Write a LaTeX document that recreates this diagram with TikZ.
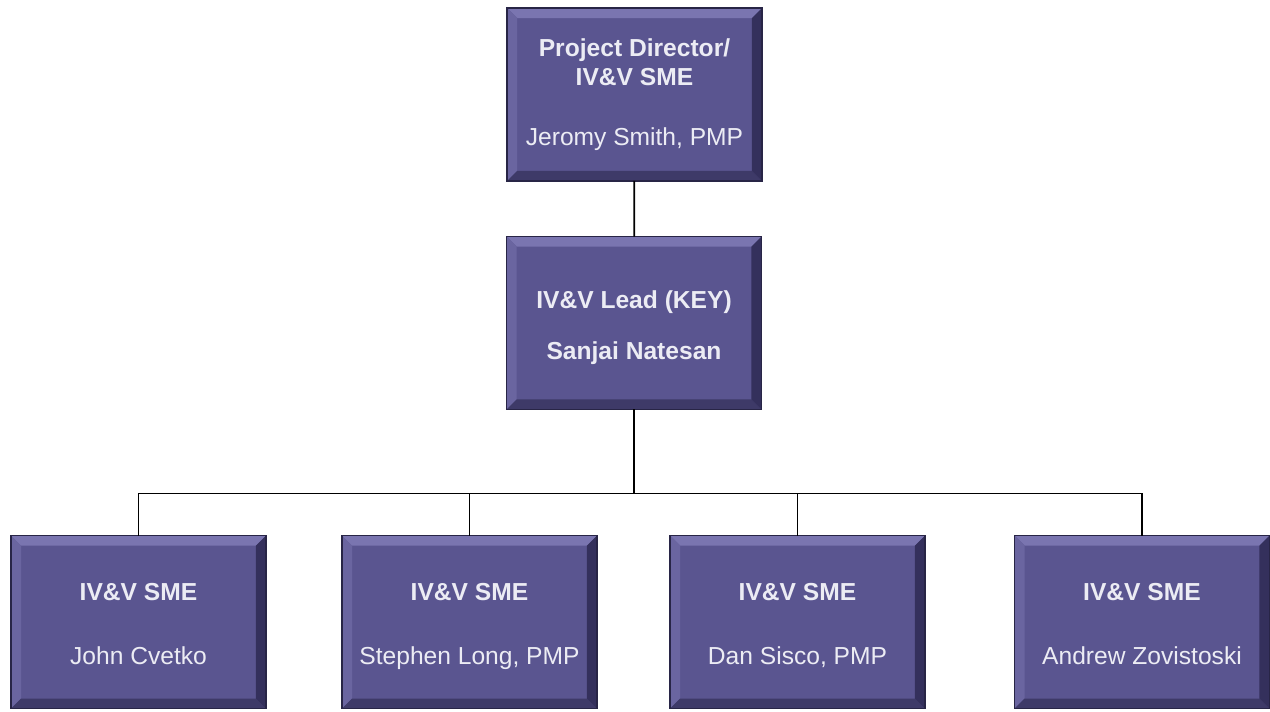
\documentclass[tikz,border=0pt]{standalone}
\usepackage{fontspec}
\setmainfont{Liberation Sans}
\definecolor{boxfill}{RGB}{90,85,144}
\definecolor{boxedge}{RGB}{40,37,70}
\definecolor{bevtop}{RGB}{122,117,176}
\definecolor{bevleft}{RGB}{106,101,160}
\definecolor{bevbot}{RGB}{62,58,104}
\definecolor{bevright}{RGB}{52,48,92}
\definecolor{boxtext}{RGB}{236,236,244}
\begin{document}
\begin{tikzpicture}[x=0.02cm, y=-0.02cm]
  \tikzstyle{staffbox}=[draw=boxedge, line width=1pt, fill=boxfill,
    minimum width=5.1cm, minimum height=3.46cm, inner sep=0pt,
    outer sep=0pt, align=center, text=boxtext,
    font=\fontsize{14}{17}\selectfont,
    path picture={
      \coordinate (nw) at (path picture bounding box.north west);
      \coordinate (se) at (path picture bounding box.south east);
      \fill[bevtop] (nw) -- (nw -| se) -- ++(-0.2cm,-0.2cm)
        -- ([shift={(0.2cm,-0.2cm)}]nw) -- cycle;
      \fill[bevleft] (nw) -- (nw |- se) -- ++(0.2cm,0.2cm)
        -- ([shift={(0.2cm,-0.2cm)}]nw) -- cycle;
      \fill[bevbot] (se) -- (nw |- se) -- ++(0.2cm,0.2cm)
        -- ([shift={(-0.2cm,0.2cm)}]se) -- cycle;
      \fill[bevright] (se) -- (nw -| se) -- ++(-0.2cm,-0.2cm)
        -- ([shift={(-0.2cm,0.2cm)}]se) -- cycle;
    }]
  \tikzstyle{link}=[line width=1pt, black]
  \useasboundingbox (0,0) rectangle (1270,711);

  % director and lead
  \node[staffbox] (director) at (634.5,94.5)
    {\textbf{Project Director/}\\\textbf{IV\&V SME}\\[17pt]Jeromy Smith, PMP};
  \node[staffbox] (lead) at (634,323)
    {\rule{0pt}{18pt}\textbf{IV\&V Lead (KEY)}\\[12pt]\textbf{Sanjai Natesan}\strut};

  % team members
  \node[staffbox] (sme1) at (138.5,622)
    {\rule{0pt}{17pt}\textbf{IV\&V SME}\\[19pt]John Cvetko\strut};
  \node[staffbox] (sme2) at (469.5,622)
    {\rule{0pt}{17pt}\textbf{IV\&V SME}\\[19pt]Stephen Long, PMP\strut};
  \node[staffbox] (sme3) at (797.5,622)
    {\rule{0pt}{17pt}\textbf{IV\&V SME}\\[19pt]Dan Sisco, PMP\strut};
  \node[staffbox] (sme4) at (1142,622)
    {\rule{0pt}{17pt}\textbf{IV\&V SME}\\[19pt]Andrew Zovistoski\strut};

  % connectors
  \path (lead.south) ++(0,84) coordinate (bus);
  \draw[link] (director) -- (lead);
  \draw[link] (lead) -- (bus);
  \foreach \s in {sme1,sme2,sme3,sme4}
    \draw[link] (bus) -| (\s);
\end{tikzpicture}
\end{document}
